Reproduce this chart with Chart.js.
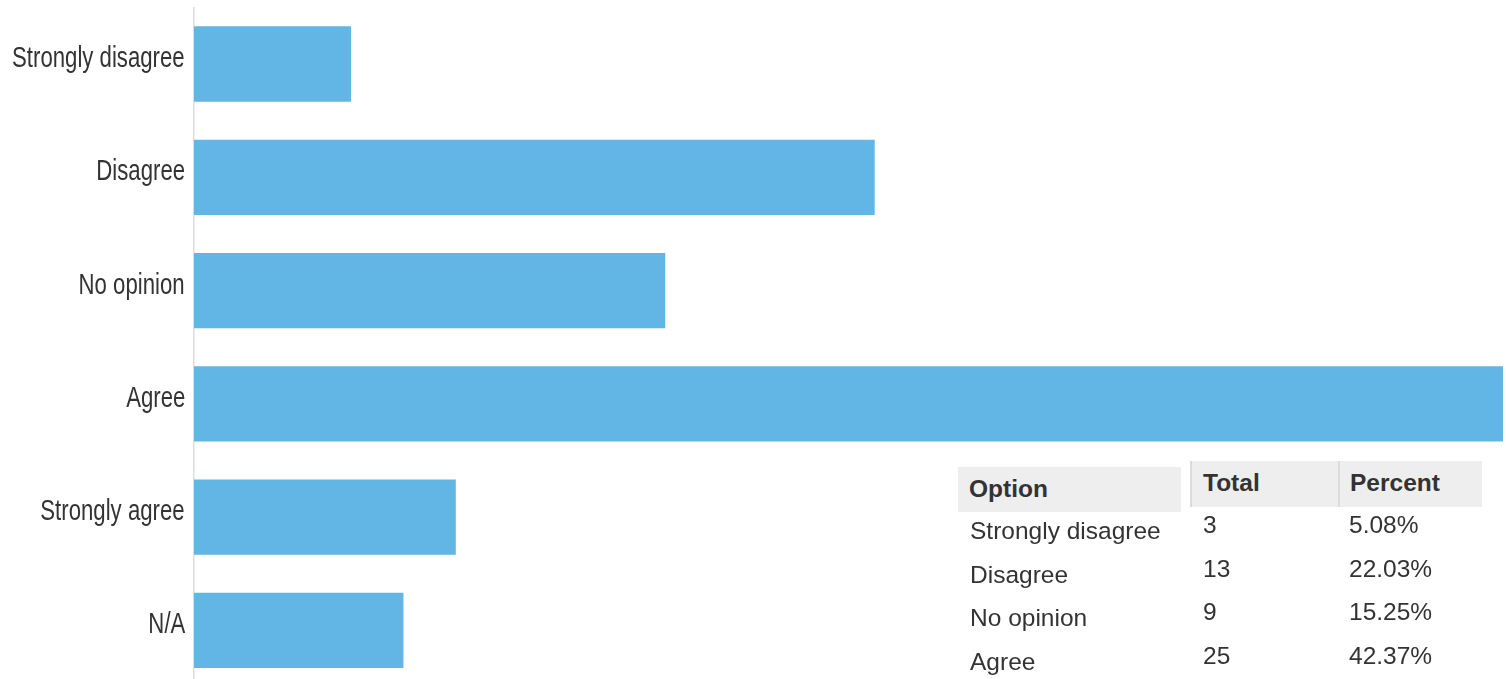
<!DOCTYPE html>
<html>
<head>
<meta charset="utf-8">
<script src="https://cdn.jsdelivr.net/npm/chart.js@4"></script>
<style>
  body { margin: 0; width: 1506px; height: 679px; overflow: hidden; background: #fff; position: relative; }
  #wrap { position: absolute; left: 0; top: 0; width: 1506px; height: 687px; }
  .lbl { position: absolute; right: 1321px; font-family: 'Liberation Sans', Arial, sans-serif; font-size: 29px; line-height: 29px;
         color: #333; white-space: nowrap; transform: scaleX(0.765); transform-origin: right center; }
  .cell { position: absolute; font-family: 'Liberation Sans', Arial, sans-serif; font-size: 24.5px; color: #333; line-height: 44px; white-space: nowrap; }
  .head { background: #eeeeee; font-weight: bold; padding-left: 11px; box-sizing: border-box; }
</style>
</head>
<body>
<div id="wrap"><canvas id="chart"></canvas></div>
<div id="labels"></div>
<div id="table"></div>
<script>
const categories = ['Strongly disagree', 'Disagree', 'No opinion', 'Agree', 'Strongly agree', 'N/A'];
const totals = [3, 13, 9, 25, 5, 4];
const percents = ['5.08%', '22.03%', '15.25%', '42.37%', '8.47%', '6.78%'];
const headers = ['Option', 'Total', 'Percent'];
const visibleRows = 4;

const ctx = document.getElementById('chart').getContext('2d');
const chart = new Chart(ctx, {
  type: 'bar',
  data: {
    labels: categories,
    datasets: [{
      data: totals,
      backgroundColor: '#62b6e6',
      categoryPercentage: 1,
      barPercentage: 0.665
    }]
  },
  options: {
    indexAxis: 'y',
    responsive: true,
    maintainAspectRatio: false,
    animation: false,
    layout: { padding: { top: 7.4, right: 3, left: 0, bottom: 0 } },
    plugins: { legend: { display: false }, tooltip: { enabled: false } },
    scales: {
      x: { display: false, min: 0, max: 25 },
      y: {
        afterFit: s => { s.width = 194; s.paddingTop = 0; s.paddingBottom = 0; },
        grid: { display: false, drawTicks: false },
        border: { display: true, color: '#dddddd', width: 1.5 },
        ticks: { display: false }
      }
    }
  }
});

// category labels as condensed html text, placed at the y scale's tick positions
const labelBox = document.getElementById('labels');
const yScale = chart.scales.y;
categories.forEach((c, i) => {
  const d = document.createElement('div');
  d.className = 'lbl';
  d.style.top = (yScale.getPixelForTick(i) - 21) + 'px';
  d.textContent = c;
  labelBox.appendChild(d);
});

// summary table over the lower right of the chart
const table = document.getElementById('table');
function addCell(text, left, top, width, cls) {
  const d = document.createElement('div');
  d.className = 'cell' + (cls ? ' ' + cls : '');
  d.style.left = left + 'px';
  d.style.top = top + 'px';
  if (width) d.style.width = width + 'px';
  d.textContent = text;
  table.appendChild(d);
  return d;
}
// header row (Option cell sits a little lower than the other two)
addCell(headers[0], 958, 467, 223, 'head').style.height = '45px';
const h1 = addCell(headers[1], 1190, 461, 148, 'head');
h1.style.height = '46px'; h1.style.borderLeft = '2px solid #dcdcdc'; h1.style.paddingLeft = '11px';
const h2 = addCell(headers[2], 1338, 461, 144, 'head');
h2.style.height = '46px'; h2.style.borderLeft = '2px solid #dcdcdc'; h2.style.paddingLeft = '10px';

for (let i = 0; i < visibleRows; i++) {
  addCell(categories[i], 970, 509 + i * 43.7);
  addCell(String(totals[i]), 1203, 503 + i * 43.7);
  addCell(percents[i], 1349, 503 + i * 43.7);
}
</script>
</body>
</html>
